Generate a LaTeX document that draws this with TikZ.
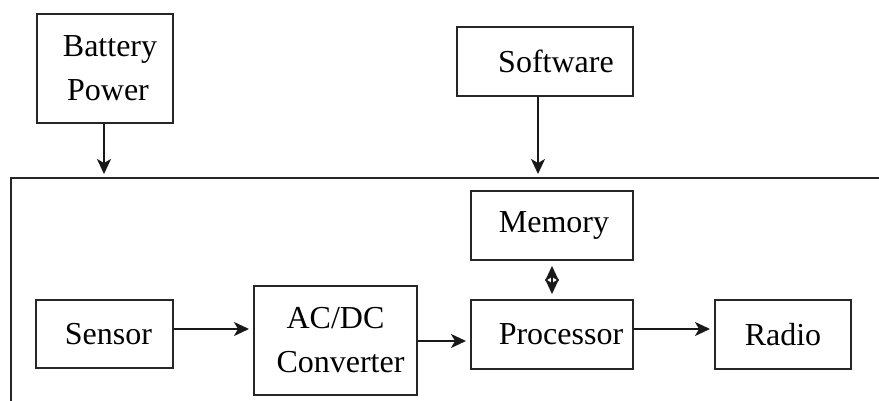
\documentclass[tikz,border=0pt]{standalone}
\usepackage{fontspec}
\setmainfont{Liberation Serif}
\usetikzlibrary{arrows.meta}
\begin{document}
\begin{tikzpicture}[x=1pt,y=-1pt,
  tip/.tip={Stealth[length=15pt,width=14pt,inset=4pt]},
  box/.style={draw=black!85,line width=2pt,inner sep=0pt,align=center,
    font=\fontsize{32}{44}\selectfont},
  arr/.style={draw=black!90,line width=2pt,-tip,shorten >=4pt},
  biarr/.style={draw=black!90,line width=2pt,tip-tip,
    shorten >=5pt,shorten <=5pt}]
\useasboundingbox (0,0) rectangle (879,401);

% outer board outline, open to the right and bottom
\coordinate (boardtl) at (11,178);
\draw[black!85,line width=2pt] (890,178) -- (boardtl) -- (11,410);

% blocks
\node[box,minimum width=136pt,minimum height=109pt] (battery) at (105,68.5)
  {\hspace*{10pt}Battery\\\hspace*{6pt}Power};
\node[box,minimum width=176pt,minimum height=69pt] (software) at (545,61.5)
  {\hspace*{22pt}Software};
\node[box,minimum width=162pt,minimum height=69pt] (memory) at (552,225.5)
  {\hspace*{4pt}Memory};
\node[box,minimum width=162pt,minimum height=69pt] (processor) at (552,334.5)
  {\hspace*{18pt}Processor};
\node[box,minimum width=137pt,minimum height=68pt] (sensor) at (104.5,334)
  {\hspace*{8pt}Sensor};
\node[box,minimum width=163pt,minimum height=109pt] (acdc) at (335.5,340.5)
  {AC/DC\\\hspace*{10pt}Converter};
\node[box,minimum width=136pt,minimum height=69pt] (radio) at (783,334.5)
  {Radio};

% connector start points
\coordinate (batout) at ([xshift=-1pt]battery.south);
\coordinate (swout) at ([xshift=-7pt]software.south);
\coordinate (senout) at ([yshift=5pt]sensor.east);
\coordinate (acout) at ([yshift=-0.5pt]acdc.east);
\coordinate (procout) at ([yshift=5.5pt]processor.east);

% supply and program inputs into the board
\draw[arr] (batout) -- (batout |- boardtl);
\draw[arr] (swout) -- (swout |- boardtl);

% signal chain
\draw[arr] (senout) -- (acdc.west |- senout);
\draw[arr] (acout) -- (processor.west |- acout);
\draw[arr] (procout) -- (radio.west |- procout);
\draw[biarr] (memory.south) -- (processor.north);
\end{tikzpicture}
\end{document}
